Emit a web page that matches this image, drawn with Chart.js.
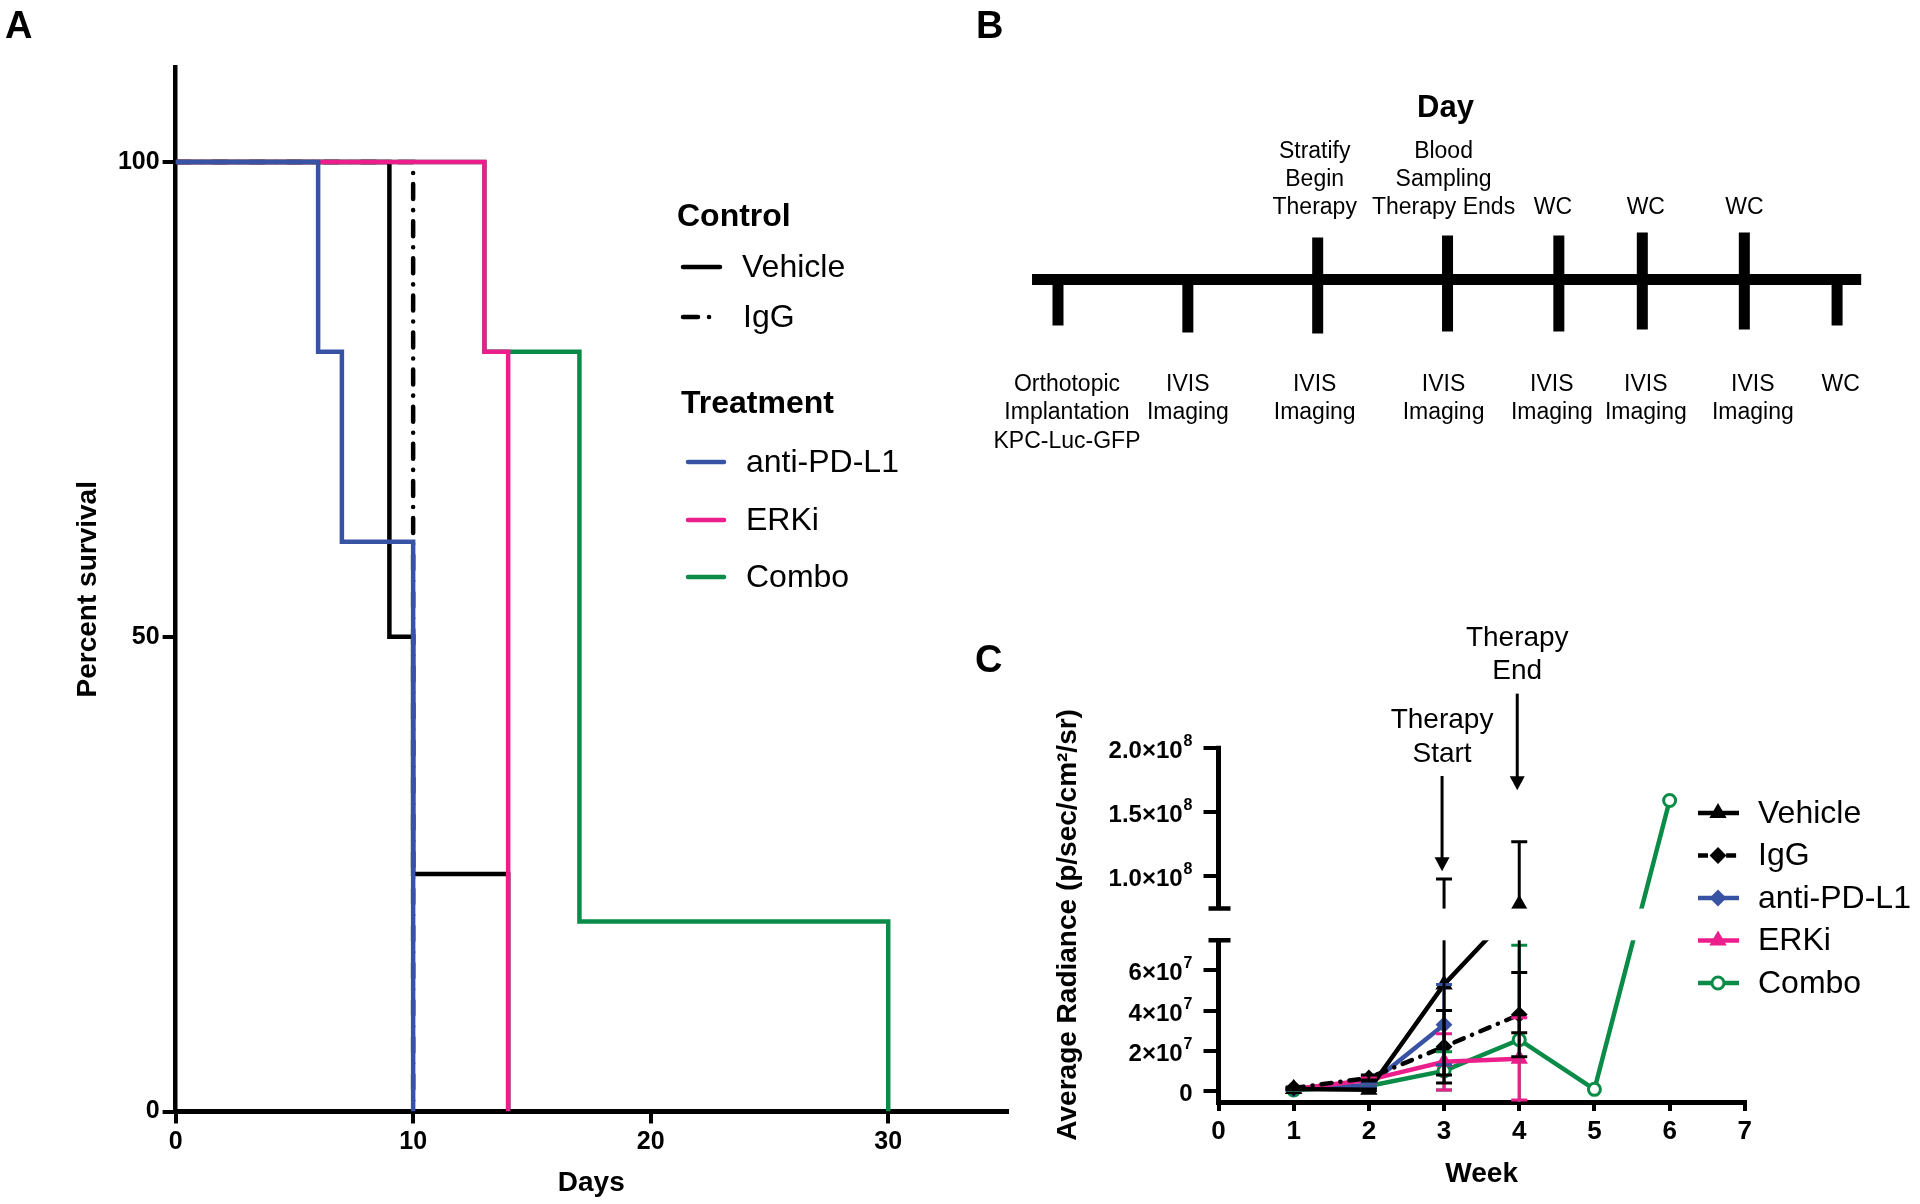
<!DOCTYPE html>
<html>
<head>
<meta charset="utf-8">
<title>Survival, timeline and tumour radiance</title>
<script src="https://cdn.jsdelivr.net/npm/chart.js@4.4.1/dist/chart.umd.min.js"></script>
<style>
  body { margin: 0; background: #fff; width: 1920px; height: 1204px; position: relative; overflow: hidden; font-family: "Liberation Sans", Arial, sans-serif; }
  canvas { position: absolute; }
  .panel-label { position: absolute; font-weight: bold; font-size: 38px; line-height: 1; color: #000; }
</style>
</head>
<body>
<canvas id="survivalChart" width="1030" height="1204" style="left:0;top:0"></canvas>
<canvas id="timelineChart" width="960" height="460" style="left:960px;top:0"></canvas>
<canvas id="radianceChart" width="880" height="584" style="left:1040px;top:620px"></canvas>
<div class="panel-label" style="left:5px;top:6px">A</div>
<div class="panel-label" style="left:976px;top:6px">B</div>
<div class="panel-label" style="left:975px;top:640px">C</div>
<script>
const FONT = '"Liberation Sans", Arial, Helvetica, sans-serif';
Chart.defaults.font.family = FONT;
Chart.defaults.color = '#000';

const BLACK = '#000000';
const BLUE = '#3953a4';
const PINK = '#ec1e8c';
const GREEN = '#0a8c48';

// ---- panel A: survival ----
const vehicleDays = [0, 9, 10, 14];
const vehicleSurvival = [100, 50, 25, 0];
const iggDays = [0, 10];
const iggSurvival = [100, 0];
const antiPdl1Days = [0, 6, 7, 10];
const antiPdl1Survival = [100, 80, 60, 0];
const erkiDays = [0, 13, 14];
const erkiSurvival = [100, 80, 0];
const comboDays = [0, 13, 17, 30];
const comboSurvival = [100, 80, 20, 0];
const survivalTicks = [0, 50, 100];
const dayTicks = [0, 10, 20, 30];

// ---- panel B: timeline ----
const timelineX = [0, 7, 14, 21, 27, 31.5, 37, 42];
const timelineSpan = [-1.4, 43.3];
const tickUp = [0, 0, 42, 44, 44, 47, 47, 0];
const tickDown = [46, 53, 54, 52, 52, 50, 50, 46];
const eventsAbove = [[], [], ['Stratify', 'Begin', 'Therapy'], ['Blood', 'Sampling', 'Therapy Ends'], ['WC'], ['WC'], ['WC'], []];
const eventsBelow = [['Orthotopic', 'Implantation', 'KPC-Luc-GFP'], ['IVIS', 'Imaging'], ['IVIS', 'Imaging'], ['IVIS', 'Imaging'],
  ['IVIS', 'Imaging'], ['IVIS', 'Imaging'], ['IVIS', 'Imaging'], ['WC']];

// ---- panel C: radiance ----
const weeks = [1, 2, 3, 4, 5, 6];
const weekTicks = [0, 1, 2, 3, 4, 5, 6, 7];
const vehicleRadiance = [1.0e6, 0.6e6, 5.3e7, 7.8e7];
const vehicleSem = [0.4e6, 0.4e6, 4.5e7, 4.9e7];
const iggRadiance = [1.5e6, 6.5e6, 2.2e7, 3.8e7];
const iggSem = [0.5e6, 1.5e6, 1.8e7, 2.1e7];
const antiPdl1Radiance = [1.0e6, 3.0e6, 3.3e7];
const antiPdl1Sem = [0.4e6, 1.0e6, 2.0e7];
const erkiRadiance = [1.0e6, 5.5e6, 1.45e7, 1.6e7];
const erkiSem = [0.4e6, 1.5e6, 1.4e7, 2.05e7];
const comboRadiance = [0.5e6, 2.5e6, 1.0e7, 2.55e7, 0.8e6, 1.59e8];
const comboSem = [0.3e6, 0.8e6, 0.95e7, 4.7e7, 0, 0];
const radianceTicks = [0, 2e7, 4e7, 6e7, 1.0e8, 1.5e8, 2.0e8];
const radianceLow = [-5.5e6, 7.5e7];
const radianceHigh = [7.5e7, 2.0e8];
const arrowWeeks = [3, 4];
const arrowTip = [1.04e8, 1.67e8];
const arrowTail = [1.78e8, 2.42e8];
const arrowLabels = [['Therapy', 'Start'], ['Therapy', 'End']];

function toPoints(xs, ys) {
  return ys.map((y, i) => ({ x: xs[i], y: y }));
}

function strokeSample(ctx, ds, x1, x2, y, cap) {
  ctx.save();
  ctx.strokeStyle = ds.borderColor;
  ctx.lineWidth = ds.borderWidth;
  ctx.setLineDash(ds.borderDash || []);
  ctx.lineCap = cap;
  ctx.beginPath();
  ctx.moveTo(x1, y);
  ctx.lineTo(x2, y);
  ctx.stroke();
  ctx.restore();
}

// ================= A =================
const survivalLegend = {
  id: 'survivalLegend',
  afterDraw(chart) {
    const ctx = chart.ctx;
    const find = name => chart.data.datasets.find(d => d.label === name);
    ctx.save();
    ctx.fillStyle = '#000';
    ctx.textBaseline = 'middle';
    ctx.font = 'bold 32px ' + FONT;
    ctx.fillText('Control', 677, 217);
    ctx.fillText('Treatment', 681, 404);
    ctx.font = '32px ' + FONT;
    const rows = [['Vehicle', 267, 683, 720, 742], ['IgG', 317, 683, 720, 743],
      ['anti-PD-L1', 462, 688, 724, 746], ['ERKi', 520, 688, 724, 746], ['Combo', 577, 688, 724, 746]];
    rows.forEach(r => {
      strokeSample(ctx, find(r[0]), r[2], r[3], r[1], 'round');
      ctx.fillText(r[0], r[4], r[1] + 1);
    });
    ctx.restore();
  }
};

const survivalLine = { stepped: 'before', borderWidth: 4.5, pointRadius: 0, fill: false, borderJoinStyle: 'miter' };

new Chart(document.getElementById('survivalChart'), {
  type: 'line',
  data: {
    datasets: [
      Object.assign({ label: 'anti-PD-L1', data: toPoints(antiPdl1Days, antiPdl1Survival), borderColor: BLUE, order: 0 }, survivalLine),
      Object.assign({ label: 'ERKi', data: toPoints(erkiDays, erkiSurvival), borderColor: PINK, order: 1 }, survivalLine),
      Object.assign({ label: 'IgG', data: toPoints(iggDays, iggSurvival), borderColor: BLACK, order: 2,
        borderDash: [15, 11, 0.1, 11], borderCapStyle: 'round' }, survivalLine),
      Object.assign({ label: 'Vehicle', data: toPoints(vehicleDays, vehicleSurvival), borderColor: BLACK, order: 3 }, survivalLine),
      Object.assign({ label: 'Combo', data: toPoints(comboDays, comboSurvival), borderColor: GREEN, order: 4 }, survivalLine)
    ]
  },
  options: {
    responsive: false,
    animation: false,
    devicePixelRatio: 1,
    events: [],
    layout: { padding: { top: 67, right: 23, left: 0, bottom: 0 } },
    plugins: { legend: { display: false }, tooltip: { enabled: false } },
    scales: {
      x: {
        type: 'linear', min: 0, max: 35, z: 1,
        afterBuildTicks: s => { s.ticks = dayTicks.map(v => ({ value: v })); },
        afterFit: s => { s.height = 92.5; },
        border: { color: '#000', width: 5 },
        grid: { drawOnChartArea: false, color: '#000', lineWidth: 4, tickLength: 12 },
        ticks: { font: { size: 25, weight: 'bold' }, padding: 4, maxRotation: 0, color: '#000' },
        title: { display: true, text: 'Days', font: { size: 28, weight: 'bold' }, color: '#000', padding: { top: 0, bottom: 4 } }
      },
      y: {
        min: 0, max: 110, z: 1,
        afterBuildTicks: s => { s.ticks = survivalTicks.map(v => ({ value: v })); },
        afterFit: s => { s.width = 175.6; },
        border: { color: '#000', width: 4.5 },
        grid: { drawOnChartArea: false, color: '#000', lineWidth: 4, tickLength: 13 },
        ticks: { font: { size: 25, weight: 'bold' }, padding: 3, color: '#000' },
        title: { display: true, text: 'Percent survival', font: { size: 28, weight: 'bold' }, color: '#000', padding: { top: 71, bottom: 0 } }
      }
    }
  },
  plugins: [survivalLegend]
});

// ================= B =================
// small nudges so the captions sit where the original put them
const aboveNudge = [0, 0, -3, -4, -6, 3.5, 0, 0];
const belowNudge = [9, 0, -3, -4, -7, 3.5, 8.5, 3.5];

const timelineText = {
  id: 'timelineText',
  afterDraw(chart) {
    const { ctx, scales: { x, y } } = chart;
    ctx.save();
    ctx.fillStyle = '#000';
    ctx.textAlign = 'center';
    ctx.textBaseline = 'middle';
    ctx.font = 'bold 31px ' + FONT;
    ctx.fillText('Day', x.getPixelForValue(timelineX[3]) - 2, 108);
    ctx.font = '23px ' + FONT;
    timelineX.forEach((d, i) => {
      const px = x.getPixelForValue(d);
      const above = eventsAbove[i];
      above.forEach((line, j) => {
        ctx.fillText(line, px + aboveNudge[i], y.getPixelForValue(72) - (above.length - 1 - j) * 28);
      });
      const below = eventsBelow[i];
      below.forEach((line, j) => {
        ctx.fillText(line, px + belowNudge[i], y.getPixelForValue(-105) + j * 28.5);
      });
    });
    ctx.restore();
  }
};

const timelineSets = [{
  data: [{ x: timelineSpan[0], y: 0 }, { x: timelineSpan[1], y: 0 }],
  borderColor: BLACK, borderWidth: 11, pointRadius: 0
}];
timelineX.forEach((d, i) => {
  timelineSets.push({
    data: [{ x: d, y: tickUp[i] }, { x: d, y: -tickDown[i] }],
    borderColor: BLACK, borderWidth: 11, pointRadius: 0
  });
});

new Chart(document.getElementById('timelineChart'), {
  type: 'line',
  data: { datasets: timelineSets },
  options: {
    responsive: false,
    animation: false,
    devicePixelRatio: 1,
    events: [],
    layout: { padding: 0 },
    plugins: { legend: { display: false }, tooltip: { enabled: false } },
    scales: {
      x: { type: 'linear', display: false, min: -5.283, max: 46.47 },
      y: { type: 'linear', display: false, min: -180.5, max: 279.5 }
    }
  },
  plugins: [timelineText]
});

// ================= C =================
const lowShare = 0.4564;
const gapShare = 0.0895;

class BrokenLinearScale extends Chart.LinearScale {
  getPixelForValue(value) {
    if (value === null || value === undefined || isNaN(value)) return NaN;
    let t;
    if (value <= radianceLow[1]) {
      t = (value - radianceLow[0]) / (radianceLow[1] - radianceLow[0]) * lowShare;
    } else {
      t = lowShare + gapShare + (value - radianceHigh[0]) / (radianceHigh[1] - radianceHigh[0]) * (1 - lowShare - gapShare);
    }
    return this.bottom - t * (this.bottom - this.top);
  }
  getValueForPixel(pixel) {
    const t = (this.bottom - pixel) / (this.bottom - this.top);
    if (t <= lowShare) return radianceLow[0] + t / lowShare * (radianceLow[1] - radianceLow[0]);
    return radianceHigh[0] + (t - lowShare - gapShare) / (1 - lowShare - gapShare) * (radianceHigh[1] - radianceHigh[0]);
  }
}
BrokenLinearScale.id = 'brokenLinear';
BrokenLinearScale.defaults = Chart.LinearScale.defaults;
Chart.register(BrokenLinearScale);

// returns [mantissa text, exponent text]
function radianceLabel(v) {
  if (v === 0) return ['0', ''];
  if (v >= 1e8) return [(v / 1e8).toFixed(1) + '×10', '8'];
  return [Math.round(v / 1e7) + '×10', '7'];
}

const radianceDecor = {
  id: 'radianceDecor',
  afterDatasetsDraw(chart) {
    const { ctx, chartArea: a, scales: { x, y } } = chart;
    // error bars
    ctx.save();
    ctx.beginPath();
    ctx.rect(a.left, a.top, a.right - a.left, a.bottom - a.top);
    ctx.clip();
    ctx.lineWidth = 3;
    ctx.lineCap = 'butt';
    for (let k = chart.data.datasets.length - 1; k >= 0; k--) {
      const ds = chart.data.datasets[k];
      ctx.strokeStyle = ds.borderColor;
      ds.data.forEach((p, i) => {
        const e = ds.sem[i];
        if (!e) return;
        const px = x.getPixelForValue(p.x);
        const hi = y.getPixelForValue(p.y + e);
        const lo = y.getPixelForValue(p.y - e);
        ctx.beginPath();
        ctx.moveTo(px, hi); ctx.lineTo(px, lo);
        ctx.moveTo(px - 8, hi); ctx.lineTo(px + 8, hi);
        ctx.moveTo(px - 8, lo); ctx.lineTo(px + 8, lo);
        ctx.stroke();
      });
    }
    ctx.restore();
    // axis break
    const lowTop = y.getPixelForValue(radianceLow[1]);
    const highBottom = y.bottom - (lowShare + gapShare) * (y.bottom - y.top);
    ctx.save();
    ctx.fillStyle = '#fff';
    ctx.fillRect(a.left + 3, highBottom, a.right - a.left + 10, lowTop - highBottom);
    ctx.strokeStyle = '#000';
    ctx.lineWidth = 5;
    ctx.beginPath();
    ctx.moveTo(a.left, a.bottom + 2.5); ctx.lineTo(a.left, lowTop);
    ctx.moveTo(a.left, highBottom); ctx.lineTo(a.left, a.top - 2);
    ctx.stroke();
    ctx.lineWidth = 4.5;
    ctx.beginPath();
    ctx.moveTo(a.left - 10, lowTop); ctx.lineTo(a.left + 12, lowTop);
    ctx.moveTo(a.left - 10, highBottom); ctx.lineTo(a.left + 12, highBottom);
    ctx.stroke();
    ctx.restore();
  },
  afterDraw(chart) {
    const { ctx, scales: { x, y } } = chart;
    ctx.save();
    // y tick labels with raised exponents
    ctx.fillStyle = '#000';
    ctx.textAlign = 'left';
    ctx.textBaseline = 'alphabetic';
    y.ticks.forEach(t => {
      const py = y.getPixelForValue(t.value);
      const parts = radianceLabel(t.value);
      ctx.font = 'bold 24px ' + FONT;
      const wb = ctx.measureText(parts[0]).width;
      ctx.font = 'bold 16px ' + FONT;
      const we = parts[1] ? ctx.measureText(parts[1]).width + 1 : 0;
      const x0 = y.right - 26 - wb - we;
      ctx.font = 'bold 24px ' + FONT;
      ctx.fillText(parts[0], x0, py + 10);
      if (parts[1]) {
        ctx.font = 'bold 16px ' + FONT;
        ctx.fillText(parts[1], x0 + wb + 1, py - 2);
      }
    });
    // therapy arrows
    ctx.strokeStyle = '#000';
    ctx.textAlign = 'center';
    ctx.textBaseline = 'middle';
    ctx.font = '28px ' + FONT;
    arrowWeeks.forEach((w, i) => {
      const px = x.getPixelForValue(w) - 2;
      const tipY = y.getPixelForValue(arrowTip[i]);
      const tailY = y.getPixelForValue(arrowTail[i]);
      ctx.lineWidth = 3;
      ctx.beginPath();
      ctx.moveTo(px, tailY); ctx.lineTo(px, tipY - 10);
      ctx.stroke();
      ctx.beginPath();
      ctx.moveTo(px - 7.5, tipY - 14); ctx.lineTo(px + 7.5, tipY - 14); ctx.lineTo(px, tipY);
      ctx.closePath();
      ctx.fill();
      const lines = arrowLabels[i];
      lines.forEach((s, j) => ctx.fillText(s, px, tailY - 22 - (lines.length - 1 - j) * 33.5));
    });
    // legend
    ctx.textAlign = 'left';
    ctx.font = '32px ' + FONT;
    chart.data.datasets.forEach((ds, i) => {
      const ry = 193 + i * 42.5;
      strokeSample(ctx, ds, 658, 699, ry, 'butt');
      ctx.fillStyle = ds.pointBackgroundColor;
      ctx.strokeStyle = ds.borderColor;
      ctx.lineWidth = ds.pointBorderWidth;
      Chart.helpers.drawPoint(ctx, { pointStyle: ds.pointStyle, radius: ds.pointRadius, rotation: 0, borderWidth: ds.pointBorderWidth }, 678, ry);
      ctx.fillStyle = '#000';
      ctx.fillText(ds.label, 718, ry + 1);
    });
    ctx.restore();
  }
};

const radianceLine = { borderWidth: 4.5, fill: false, tension: 0, pointBorderWidth: 2 };

new Chart(document.getElementById('radianceChart'), {
  type: 'line',
  data: {
    datasets: [
      Object.assign({ label: 'Vehicle', data: toPoints(weeks, vehicleRadiance), sem: vehicleSem, borderColor: BLACK,
        pointStyle: 'triangle', pointRadius: 8, pointBackgroundColor: BLACK, order: 0 }, radianceLine),
      Object.assign({ label: 'IgG', data: toPoints(weeks, iggRadiance), sem: iggSem, borderColor: BLACK,
        borderDash: [10, 9, 0.1, 9], borderCapStyle: 'round',
        pointStyle: 'rectRot', pointRadius: 7, pointBackgroundColor: BLACK, order: 1 }, radianceLine),
      Object.assign({ label: 'anti-PD-L1', data: toPoints(weeks, antiPdl1Radiance), sem: antiPdl1Sem, borderColor: BLUE,
        pointStyle: 'rectRot', pointRadius: 7, pointBackgroundColor: BLUE, order: 3 }, radianceLine),
      Object.assign({ label: 'ERKi', data: toPoints(weeks, erkiRadiance), sem: erkiSem, borderColor: PINK,
        pointStyle: 'triangle', pointRadius: 8, pointBackgroundColor: PINK, order: 2 }, radianceLine),
      Object.assign({ label: 'Combo', data: toPoints(weeks, comboRadiance), sem: comboSem, borderColor: GREEN,
        pointStyle: 'circle', pointRadius: 6, pointBackgroundColor: '#ffffff', order: 4 }, radianceLine, { pointBorderWidth: 3 })
    ]
  },
  options: {
    responsive: false,
    animation: false,
    devicePixelRatio: 1,
    events: [],
    layout: { padding: { top: 127.7, right: 175.2, left: 0, bottom: 0 } },
    plugins: { legend: { display: false }, tooltip: { enabled: false } },
    scales: {
      x: {
        type: 'linear', min: 0, max: 7, z: 1,
        afterBuildTicks: s => { s.ticks = weekTicks.map(v => ({ value: v })); },
        afterFit: s => { s.height = 102; },
        border: { color: '#000', width: 5 },
        grid: { drawOnChartArea: false, color: '#000', lineWidth: 4, tickLength: 9 },
        ticks: { font: { size: 26, weight: 'bold' }, padding: 5, maxRotation: 0, color: '#000' },
        title: { display: true, text: 'Week', font: { size: 28, weight: 'bold' }, color: '#000', padding: { top: 0, bottom: 13 } }
      },
      y: {
        type: 'brokenLinear', min: radianceLow[0], max: radianceHigh[1],
        afterBuildTicks: s => { s.ticks = radianceTicks.map(v => ({ value: v })); },
        afterFit: s => { s.width = 178.5; },
        border: { display: false },
        grid: { drawOnChartArea: false, color: '#000', lineWidth: 4, tickLength: 15 },
        ticks: { display: false },
        title: { display: true, text: 'Average Radiance (p/sec/cm²/sr)', font: { size: 28, weight: 'bold' }, color: '#000', padding: { top: 11, bottom: 0 } }
      }
    }
  },
  plugins: [radianceDecor]
});
</script>
</body>
</html>
